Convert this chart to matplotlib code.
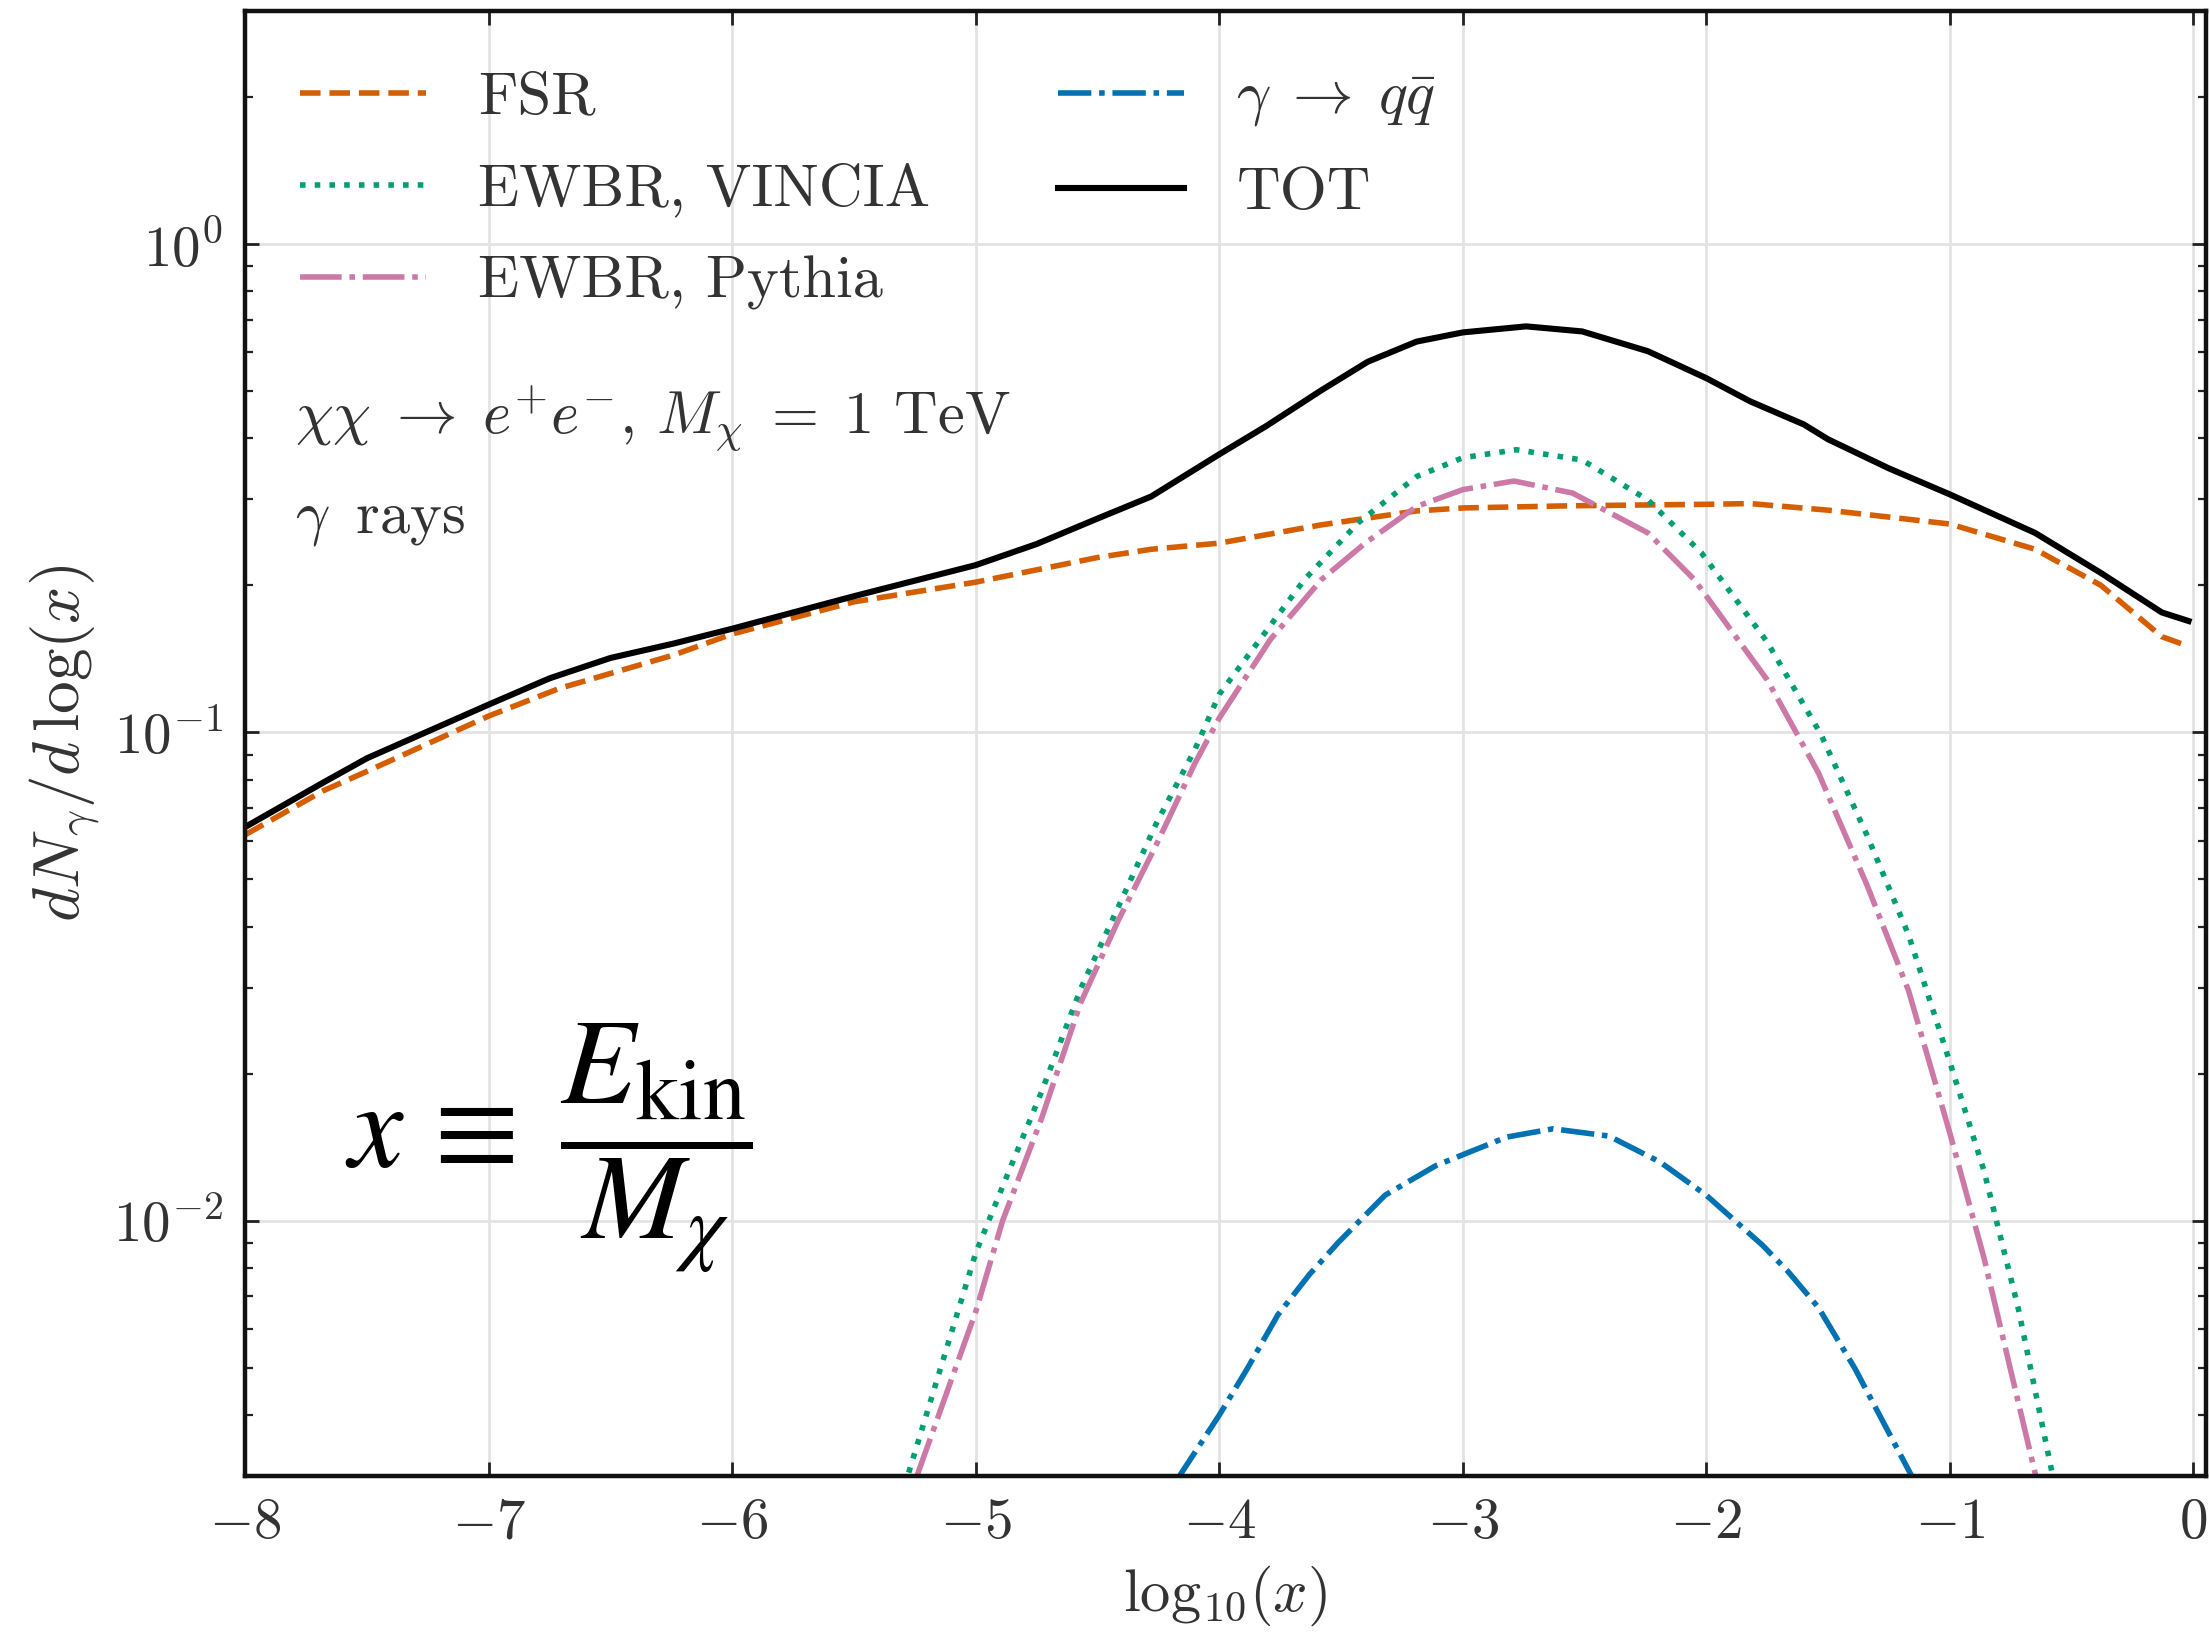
import matplotlib
matplotlib.use("Agg")
import matplotlib.pyplot as plt
from matplotlib.ticker import LogLocator, NullFormatter, MultipleLocator

plt.rcParams["font.family"] = "serif"
plt.rcParams["font.serif"] = ["cmr10"]
plt.rcParams["mathtext.fontset"] = "cm"
plt.rcParams["axes.formatter.use_mathtext"] = True
plt.rcParams["axes.unicode_minus"] = False

# photon spectra, x = log10(E_kin / M_chi)
fsr_x = [-8.0, -7.68, -7.5, -7.0, -6.71, -6.5, -6.24, -6.0, -5.5, -5.0, -4.5, -4.28,
         -4.0, -3.58, -3.19, -3.0, -2.55, -2.0, -1.82, -1.5, -1.0, -0.65, -0.38,
         -0.13, -0.02]
fsr_y = [0.0617, 0.0759, 0.0832, 0.108, 0.123, 0.132, 0.144, 0.159, 0.185, 0.203,
         0.228, 0.237, 0.244, 0.266, 0.284, 0.288, 0.291, 0.293, 0.294, 0.285, 0.267,
         0.237, 0.200, 0.157, 0.150]

vincia_x = [-5.35, -5.28, -5.0, -4.89, -4.73, -4.57, -4.415, -4.26, -4.1, -4.0, -3.79,
            -3.65, -3.43, -3.19, -3.0, -2.78, -2.51, -2.24, -2.02, -1.75, -1.53, -1.34,
            -1.17, -1.0, -0.86, -0.72, -0.58, -0.55]
vincia_y = [0.00234, 0.0030, 0.0086, 0.01175, 0.01837, 0.0298, 0.0439, 0.0649, 0.0923,
            0.1197, 0.1656, 0.2056, 0.2685, 0.334, 0.365, 0.379, 0.361, 0.299, 0.233,
            0.153, 0.0991, 0.0615, 0.0385, 0.0211, 0.01265, 0.00664, 0.00304, 0.00251]

pythia_x = [-5.32, -5.24, -5.0, -4.89, -4.73, -4.57, -4.415, -4.26, -4.1, -4.0, -3.79,
            -3.58, -3.4, -3.19, -3.0, -2.79, -2.55, -2.24, -2.05, -1.75, -1.54, -1.34,
            -1.17, -1.0, -0.86, -0.65, -0.62]
pythia_y = [0.00224, 0.00302, 0.00652, 0.0100, 0.0162, 0.0279, 0.0412, 0.0587, 0.0865,
            0.107, 0.155, 0.2056, 0.2443, 0.290, 0.314, 0.327, 0.309, 0.256, 0.2056,
            0.128, 0.0826, 0.0486, 0.0296, 0.0151, 0.00839, 0.00304, 0.00251]

qq_x = [-4.22, -4.16, -4.0, -3.885, -3.76, -3.63, -3.51, -3.32, -3.11, -2.82, -2.63,
        -2.4, -2.19, -2.0, -1.77, -1.665, -1.54, -1.39, -1.16, -1.12]
qq_y = [0.00229, 0.00302, 0.0040, 0.00498, 0.00641, 0.00776, 0.00904, 0.01127, 0.01297,
        0.01483, 0.01542, 0.0149, 0.01318, 0.01127, 0.00891, 0.00787, 0.00664, 0.00498,
        0.00302, 0.00263]

tot_x = [-8.0, -7.68, -7.5, -7.0, -6.75, -6.5, -6.24, -6.0, -5.5, -5.0, -4.75, -4.5,
         -4.28, -4.0, -3.81, -3.58, -3.39, -3.19, -3.0, -2.74, -2.51, -2.24, -2.0,
         -1.82, -1.6, -1.5, -1.25, -1.0, -0.65, -0.38, -0.13, -0.02]
tot_y = [0.064, 0.0789, 0.0885, 0.114, 0.129, 0.142, 0.152, 0.163, 0.190, 0.220, 0.243,
         0.274, 0.304, 0.371, 0.423, 0.502, 0.574, 0.631, 0.659, 0.678, 0.662, 0.603,
         0.531, 0.476, 0.427, 0.398, 0.347, 0.307, 0.256, 0.212, 0.176, 0.169]

labels = ["FSR", "EWBR, VINCIA", "EWBR, Pythia",
          r"$\gamma\;\rightarrow\;q\bar{q}$", "TOT"]
text_col = "#333333"
fs = 21.8

fig = plt.figure(figsize=(11.05, 8.17), dpi=200)
ax = fig.add_axes([0.111, 0.0967, 0.887, 0.8966])

ax.plot(fsr_x, fsr_y, color="#D55E00", lw=2.0, ls="--", label=labels[0])
ax.plot(vincia_x, vincia_y, color="#009E73", lw=2.0, ls=":", label=labels[1])
ax.plot(pythia_x, pythia_y, color="#CC79A7", lw=2.0, ls=(0, (7.5, 1.4, 1, 1.4)),
        label=labels[2])
ax.plot(qq_x, qq_y, color="#0072B2", lw=2.0, ls=(0, (6, 1.4, 1, 1.4)), label=labels[3])
ax.plot(tot_x, tot_y, color="black", lw=2.2, ls="-", label=labels[4])

ax.set_yscale("log")
ax.set_xlim(-8, 0.05)
ax.set_ylim(3e-3, 3)
ax.xaxis.set_major_locator(MultipleLocator(1))
ax.yaxis.set_major_locator(LogLocator(base=10, numticks=10))
ax.yaxis.set_minor_locator(LogLocator(base=10, subs=range(2, 10), numticks=20))
ax.yaxis.set_minor_formatter(NullFormatter())

ax.grid(True, which="major", color="#e3e3e3", lw=1.0)
ax.set_axisbelow(True)
ax.tick_params(which="both", direction="in", top=True, right=True,
               labelsize=20.5, labelcolor=text_col, color="#222222")
ax.tick_params(which="major", length=5, width=1.0, pad=8)
ax.tick_params(which="minor", length=2.8, width=0.8)
for sp in ax.spines.values():
    sp.set_linewidth(1.6)
    sp.set_color("#111111")

ax.set_xlabel(r"$\mathrm{log}_{10}(x)$", fontsize=fs, color=text_col, labelpad=5)
ax.set_ylabel(r"$dN_\gamma/d\,\log(x)$", fontsize=23.5, color=text_col, labelpad=4)

leg = ax.legend(loc="upper left", bbox_to_anchor=(0.0, 0.996), ncol=2, frameon=False,
                fontsize=fs, handlelength=2.09, handletextpad=0.86, columnspacing=2.1,
                labelspacing=0.62, borderpad=0.4, borderaxespad=0.5)
for t in leg.get_texts():
    t.set_color(text_col)

ax.text(0.0255, 0.722,
        r"$\chi\chi\;\rightarrow\;e^{+}e^{-}$, $M_\chi\;=\;1$ TeV",
        transform=ax.transAxes, fontsize=fs, color=text_col, va="center")
ax.text(0.0255, 0.652, r"$\gamma\,$ rays", transform=ax.transAxes, fontsize=fs,
        color=text_col, va="center")

ax.text(0.1545, 0.224, r"$x\,\equiv\;\dfrac{E_{\mathrm{kin}}}{M_\chi}$",
        transform=ax.transAxes, fontsize=44, color="black", ha="center", va="center",
        math_fontfamily="stix")

fig.savefig("out.png", dpi=200)
